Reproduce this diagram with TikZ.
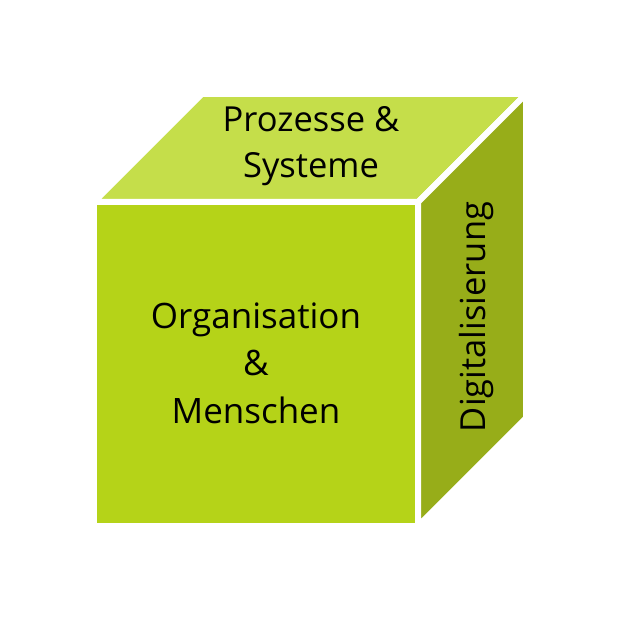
\documentclass[tikz,border=0pt]{standalone}
\usepackage{fontspec}
\setmainfont{Open Sans}
\usetikzlibrary{positioning}
\definecolor{frontgreen}{RGB}{181,211,24}
\definecolor{topgreen}{RGB}{197,222,74}
\definecolor{sidegreen}{RGB}{151,173,25}
\tikzset{
  face/.style={draw=white, line width=6pt},
  label/.style={inner sep=0pt, align=center, font=\fontsize{35}{47.5}\selectfont}
}

\begin{document}
\begin{tikzpicture}[x=1pt, y=-1pt]
      \useasboundingbox (0,0) rectangle (620,620);
      
      % faces of the cube
      \fill[frontgreen] (94,202) rectangle (418,526);
      \draw[face] (94,202) rectangle (418,526);
      \filldraw[face, fill=topgreen] (94,202) -- (418,202) -- (526,94) -- (202,94) -- cycle;
      \filldraw[face, fill=sidegreen] (418,202) -- (526,94) -- (526,418) -- (418,526) -- cycle;
      
      \node[label] (orga) at (256,363) {Organisation\\\&\\Menschen};
      \node[label, font=\fontsize{34.5}{46}\selectfont] (proz) at (311,146) {Prozesse \&\\Systeme};
      \node[label, font=\fontsize{34.5}{40}\selectfont, rotate=90] (digi) at (477,317) {Digitalisierung};
      
    \end{tikzpicture}
\end{document}
